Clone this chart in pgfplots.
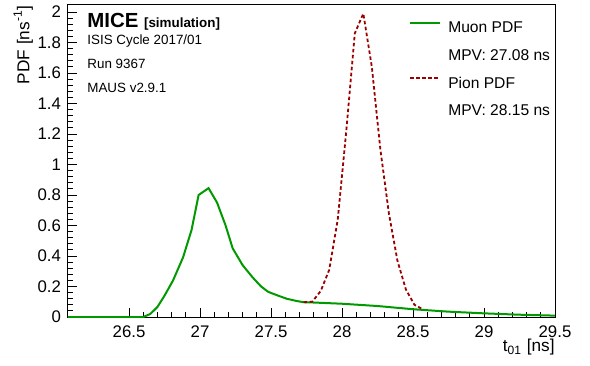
\documentclass[border=0pt]{standalone}
\usepackage{pgfplots}
\pgfplotsset{compat=1.18}
\usepackage{fontspec}
\setmainfont{Liberation Sans}
\definecolor{muongreen}{RGB}{0,153,0}
\definecolor{piondred}{RGB}{153,0,0}
\begin{document}
\begin{tikzpicture}
\begin{axis}[
  scale only axis,
  width=243.5pt, height=156pt,
  xmin=26.07, xmax=29.5,
  ymin=0, ymax=2.046,
  axis line style={line width=0.5pt},
  xtick={26.5,27,27.5,28,28.5,29,29.5},
  ytick={0,0.2,0.4,0.6,0.8,1,1.2,1.4,1.6,1.8,2},
  minor x tick num=4,
  minor y tick num=4,
  tick align=inside,
  xtick pos=bottom, ytick pos=left,
  major tick length=4.5pt, minor tick length=2.3pt,
  tick style={black, line width=0.5pt},
  /pgf/number format/assume math mode=true,
  /pgf/number format/fixed,
  tick label style={font=\fontsize{8.4pt}{9pt}\selectfont},
  xticklabel style={yshift=-1pt},
  xlabel={t\textsubscript{01} [ns]},
  ylabel={PDF [ns\textsuperscript{-1}]},
  label style={font=\fontsize{8.6pt}{9pt}\selectfont},
  xlabel style={at={(rel axis cs:1,0)}, anchor=north east, yshift=-11pt, inner sep=0pt},
  ylabel style={at={(axis description cs:-0.071,1)}, anchor=south east, inner sep=0pt},
  legend style={draw=none, fill=none, at={(axis description cs:0.70,0.965)}, anchor=north west,
    font=\fontsize{7.8pt}{9pt}\selectfont, row sep=2pt, inner sep=0pt, column sep=1.5pt},
  legend cell align=left,
  legend image code/.code={\draw[#1] (0pt,2.8pt) -- (15pt,2.8pt);},
  clip=true,
]
\addplot[color=muongreen, line width=1pt] coordinates {
(26.07,0) (26.60,0) (26.65,0.02) (26.70,0.066) (26.75,0.14) (26.81,0.24) (26.88,0.39)
(26.94,0.57) (26.99,0.80) (27.06,0.845) (27.12,0.75) (27.18,0.60) (27.23,0.45)
(27.30,0.34) (27.37,0.26) (27.43,0.20) (27.48,0.165) (27.55,0.14) (27.61,0.12)
(27.68,0.105) (27.73,0.097) (27.80,0.095) (28.0,0.087) (28.25,0.072) (28.5,0.051)
(28.75,0.035) (29.0,0.024) (29.25,0.015) (29.5,0.009)
};
\addlegendentry{\strut Muon PDF}
\addlegendimage{line width=1pt, draw opacity=0}
\addlegendentry{\strut MPV: 27.08 ns}
\addplot[color=piondred, line width=0.9pt, dash pattern=on 1.75pt off 1.25pt] coordinates {
(27.73,0.097) (27.79,0.10) (27.85,0.17) (27.91,0.31) (27.97,0.64) (28.03,1.22)
(28.09,1.86) (28.15,1.99) (28.21,1.64) (28.27,1.10) (28.33,0.68) (28.39,0.37)
(28.45,0.18) (28.51,0.08) (28.57,0.05)
};
\addlegendentry{\strut Pion PDF}
\addlegendimage{line width=1pt, draw opacity=0}
\addlegendentry{\strut MPV: 28.15 ns}
\node[anchor=base west, inner sep=0pt] at (axis description cs:0.039,0.929)
  {\fontsize{10.2pt}{11pt}\selectfont\bfseries MICE \fontsize{6.7pt}{8pt}\selectfont [simulation]};
\node[anchor=base west, inner sep=0pt, font=\fontsize{6.7pt}{8pt}\selectfont] at (axis description cs:0.039,0.872) {ISIS Cycle 2017/01};
\node[anchor=base west, inner sep=0pt, font=\fontsize{6.7pt}{8pt}\selectfont] at (axis description cs:0.039,0.798) {Run 9367};
\node[anchor=base west, inner sep=0pt, font=\fontsize{6.7pt}{8pt}\selectfont] at (axis description cs:0.039,0.721) {MAUS v2.9.1};
\end{axis}
\pgfresetboundingbox
\path ([xshift=-34pt,yshift=-24pt]current axis.south west) rectangle ([xshift=17.5pt,yshift=2.5pt]current axis.north east);
\end{tikzpicture}
\end{document}
